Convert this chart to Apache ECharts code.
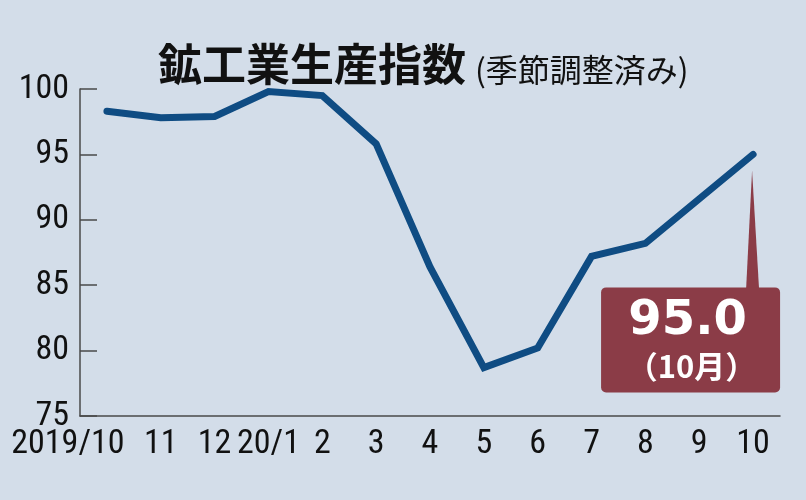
<!DOCTYPE html>
<html><head><meta charset="utf-8">
<script src="https://cdn.jsdelivr.net/npm/echarts@6/dist/echarts.min.js"></script>
<style>html,body{margin:0;padding:0;background:#d3dde9;}#c{width:806px;height:500px;}</style>
</head><body><div id="c"></div>
<script>
const categories = ['2019/10','11','12','20/1','2','3','4','5','6','7','8','9','10'];
const values = [98.3, 97.8, 97.9, 99.8, 99.5, 95.8, 86.4, 78.7, 80.2, 87.2, 88.2, 91.6, 95.0];
const yTicks = {min: 75, max: 100, interval: 5};
const titleMain = '鉱工業生産指数';
const titleSub = '(季節調整済み)';
const calloutValue = '95.0';
const calloutMonth = '（10月）';

const narrow = "'Roboto Condensed','DejaVu Sans Condensed',sans-serif";
const axisColor = '#4a4a4a';
const chart = echarts.init(document.getElementById('c'), null, {renderer: 'canvas'});
chart.setOption({
  backgroundColor: '#d3dde9',
  animation: false,
  title: {
    left: 158, top: 34, padding: 0,
    text: '{a|' + titleMain + '}{b|' + titleSub + '}',
    textStyle: {
      rich: {
        a: {fontFamily: "'Noto Sans CJK JP'", fontWeight: 'bold', fontSize: 44, color: '#111', lineHeight: 52, verticalAlign: 'bottom'},
        b: {fontFamily: "'Noto Sans CJK JP'", fontWeight: 'normal', fontSize: 32, color: '#111', lineHeight: 38, verticalAlign: 'bottom', padding: [0,0,0,9]}
      }
    }
  },
  grid: {left: 80, right: 26, top: 89, bottom: 84, containLabel: false},
  xAxis: {
    type: 'category',
    data: categories.map((c, i) => i === 0 ? {value: c, textStyle: {padding: [0, 78, 0, 0]}} : c),
    boundaryGap: true,
    axisLine: {lineStyle: {color: axisColor, width: 1.5}},
    axisTick: {inside: true, length: 7, alignWithLabel: true, lineStyle: {color: axisColor, width: 1.5}},
    axisLabel: {color: '#111', fontFamily: narrow, fontSize: 34, margin: 11, interval: 0},
    splitLine: {show: false}
  },
  yAxis: {
    type: 'value', min: yTicks.min, max: yTicks.max, interval: yTicks.interval,
    axisLine: {show: true, lineStyle: {color: axisColor, width: 1.5}},
    axisTick: {show: true, inside: true, length: 17, lineStyle: {color: axisColor, width: 1.5}},
    axisLabel: {color: '#111', fontFamily: narrow, fontSize: 34, margin: 11},
    splitLine: {show: false}
  },
  series: [{
    type: 'line',
    data: values,
    symbol: 'none',
    lineStyle: {color: '#0f4c83', width: 7, cap: 'round', join: 'miter'}
  }]
});

const p = chart.convertToPixel({seriesIndex: 0}, [values.length - 1, values[values.length - 1]]);
const px = p[0], py = p[1];
const boxL = px - 152, boxR = px + 27, boxT = py + 133, boxB = py + 238;
const boxColor = '#8b3c47';
chart.setOption({
  graphic: [
    {type: 'polygon', shape: {points: [[px - 1, py + 16], [px - 7, boxT + 2], [px + 6, boxT + 2]]}, style: {fill: boxColor}, z: 10},
    {type: 'rect', shape: {x: boxL, y: boxT, width: boxR - boxL, height: boxB - boxT, r: 5}, style: {fill: boxColor}, z: 10},
    {type: 'text', x: (boxL + boxR) / 2 - 3, y: boxT + 34, style: {text: calloutValue, fill: '#fff', font: "bold 48px 'DejaVu Sans', sans-serif", align: 'center', verticalAlign: 'middle'}, z: 11},
    {type: 'text', x: (boxL + boxR) / 2 + 1, y: boxT + 79, style: {text: calloutMonth, fill: '#fff', font: "bold 31px 'Noto Sans CJK JP', sans-serif", align: 'center', verticalAlign: 'middle'}, z: 11}
  ]
});
</script></body></html>
